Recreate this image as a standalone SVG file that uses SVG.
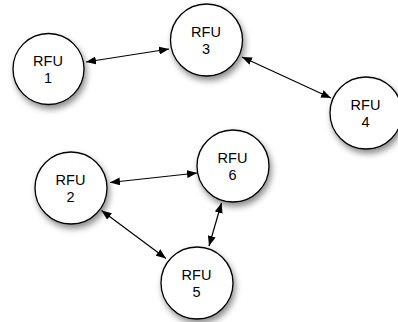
<svg xmlns="http://www.w3.org/2000/svg" width="398" height="322" viewBox="0 0 398 322">
<style>
.node circle{fill:#fff;stroke:#000;stroke-width:1.3;filter:url(#sh)}
.node text{font-family:"Liberation Sans",Arial,sans-serif;font-size:14.5px;text-anchor:middle;fill:#000}
.conn line{stroke:#000;stroke-width:1.2;marker-start:url(#ah);marker-end:url(#ah)}
</style>
<defs>
<filter id="sh" x="-30%" y="-30%" width="170%" height="170%">
<feDropShadow dx="2" dy="4" stdDeviation="3" flood-color="#000" flood-opacity="0.45"/>
</filter>
<marker id="ah" viewBox="0 0 10 8" refX="10" refY="4" markerWidth="10" markerHeight="8" markerUnits="userSpaceOnUse" orient="auto-start-reverse">
<path d="M0,0 L10,4 L0,8 Z" fill="#000"/>
</marker>
</defs>
<g class="conn">
<line x1="86" y1="62" x2="169" y2="49"/>
<line x1="242" y1="57" x2="331" y2="98"/>
<line x1="110" y1="182.5" x2="197" y2="173"/>
<line x1="101.5" y1="210.5" x2="166" y2="258.5"/>
<line x1="221.5" y1="203" x2="209" y2="246"/>
</g>
<g id="rfu1" class="node"><circle cx="48.5" cy="69" r="35.5"/><text x="48" y="65.5">RFU</text><text x="48" y="83.3">1</text></g>
<g id="rfu3" class="node"><circle cx="206.5" cy="40" r="36"/><text x="206" y="36.5">RFU</text><text x="206" y="54.3">3</text></g>
<g id="rfu4" class="node"><circle cx="366" cy="113" r="36"/><text x="365.5" y="109.5">RFU</text><text x="365.5" y="127.3">4</text></g>
<g id="rfu2" class="node"><circle cx="71" cy="188" r="36"/><text x="70.5" y="184.5">RFU</text><text x="70.5" y="202.3">2</text></g>
<g id="rfu6" class="node"><circle cx="233" cy="166" r="36"/><text x="232.5" y="162.5">RFU</text><text x="232.5" y="180.3">6</text></g>
<g id="rfu5" class="node"><circle cx="197" cy="283" r="36"/><text x="196.5" y="279.5">RFU</text><text x="196.5" y="297.3">5</text></g>
</svg>
